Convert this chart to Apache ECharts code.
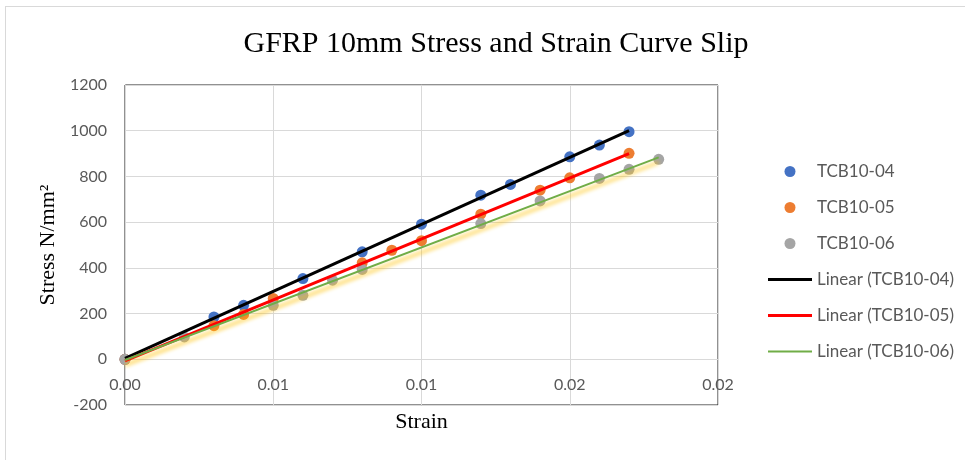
<!DOCTYPE html>
<html><head><meta charset="utf-8">
<script src="https://cdn.jsdelivr.net/npm/echarts@6/dist/echarts.min.js"></script>
<style>
html,body{margin:0;padding:0;background:#fff;}
#frame{position:absolute;left:5px;top:6px;width:960px;height:454px;border-left:1px solid #d9d9d9;border-top:1px solid #d9d9d9;box-sizing:border-box;}
#c{position:absolute;left:0;top:0;width:965px;height:460px;}
</style></head>
<body><div id="frame"></div><div id="c"></div>
<script>
const seriesNames = ['TCB10-04','TCB10-05','TCB10-06'];
const trendNames = ['Linear (TCB10-04)','Linear (TCB10-05)','Linear (TCB10-06)'];
const strain04 = [0, 0.003, 0.004, 0.006, 0.008, 0.010, 0.012, 0.013, 0.015, 0.016, 0.017];
const stress04 = [0, 185, 236, 353, 470, 591, 718, 765, 886, 937, 996];
const strain05 = [0, 0.003, 0.004, 0.005, 0.008, 0.009, 0.010, 0.012, 0.014, 0.015, 0.017];
const stress05 = [0, 147, 196, 266, 422, 477, 519, 635, 740, 794, 901];
const strain06 = [0, 0.002, 0.005, 0.006, 0.007, 0.008, 0.012, 0.014, 0.016, 0.017, 0.018];
const stress06 = [0, 98, 236, 280, 346, 393, 594, 693, 791, 831, 875];
const xTickLabels = ['0.00','0.01','0.01','0.02','0.02'];
const yTicks = [-200, 0, 200, 400, 600, 800, 1000, 1200];

const pairs = (xs, ys) => xs.map((x, i) => [x, ys[i]]);
function fit(xs, ys) {
  const n = xs.length;
  const mx = xs.reduce((a, b) => a + b, 0) / n;
  const my = ys.reduce((a, b) => a + b, 0) / n;
  let sxy = 0, sxx = 0;
  for (let i = 0; i < n; i++) { sxy += (xs[i] - mx) * (ys[i] - my); sxx += (xs[i] - mx) ** 2; }
  const b = sxy / sxx, a = my - b * mx;
  const x0 = Math.min(...xs), x1 = Math.max(...xs);
  return [[x0, a + b * x0], [x1, a + b * x1]];
}

const gridHeight = 320;
const yMin = yTicks[0], yMax = yTicks[yTicks.length - 1];
// shift the x axis up so it crosses the y axis at zero (as in the original)
const xAxisOffset = -gridHeight * (0 - yMin) / (yMax - yMin);

const labelFont = 'Lato, "Noto Sans", sans-serif';
const chart = echarts.init(document.getElementById('c'));
chart.setOption({
  animation: false,
  title: {
    text: 'GFRP 10mm Stress and Strain Curve Slip',
    left: 491, top: 24, textAlign: 'center',
    textStyle: { fontFamily: '"Liberation Serif", serif', fontSize: 30, fontWeight: 'normal', color: '#000' }
  },
  grid: { left: 125, top: 85, width: 593, height: gridHeight, show: true, borderColor: '#222', borderWidth: 1,
          containLabel: false, outerBoundsMode: 'none' },
  legend: {
    orient: 'vertical', left: 768, top: 163, padding: 0,
    itemWidth: 44, itemHeight: 11, itemGap: 19,
    textStyle: { fontFamily: labelFont, fontSize: 17, lineHeight: 17, color: '#595959' },
    data: [
      { name: seriesNames[0], icon: 'circle' },
      { name: seriesNames[1], icon: 'circle' },
      { name: seriesNames[2], icon: 'circle' },
      { name: trendNames[0], icon: 'path://M0,0H44V3H0Z' },
      { name: trendNames[1], icon: 'path://M0,0H44V3H0Z' },
      { name: trendNames[2], icon: 'path://M0,0H44V2H0Z' }
    ]
  },
  xAxis: {
    type: 'value', min: 0, max: 0.02, interval: 0.005,
    offset: xAxisOffset,
    name: 'Strain', nameLocation: 'middle', nameGap: 52,
    nameTextStyle: { fontFamily: '"Liberation Serif", serif', fontSize: 22, color: '#000' },
    axisLine: { show: true, onZero: false, lineStyle: { color: '#d9d9d9' } },
    axisTick: { show: false },
    splitLine: { lineStyle: { color: '#d9d9d9' } },
    axisLabel: { fontFamily: labelFont, fontSize: 16, color: '#595959', margin: 18,
      formatter: (v) => xTickLabels[Math.round(v / 0.005)] }
  },
  yAxis: {
    type: 'value', min: yMin, max: yMax, interval: 200,
    name: 'Stress N/mm²', nameLocation: 'middle', nameGap: 64,
    nameTextStyle: { fontFamily: '"Liberation Serif", serif', fontSize: 22, color: '#000' },
    axisLine: { show: true, onZero: false, lineStyle: { color: '#d9d9d9' } },
    axisTick: { show: false },
    splitLine: { lineStyle: { color: '#d9d9d9' } },
    axisLabel: { fontFamily: labelFont, fontSize: 16, color: '#595959', margin: 18,
      formatter: (v) => String(v) }
  },
  series: [
    { name: seriesNames[0], type: 'scatter', data: pairs(strain04, stress04), symbolSize: 11, itemStyle: { color: '#4472C4', opacity: 1 }, z: 3 },
    { name: seriesNames[1], type: 'scatter', data: pairs(strain05, stress05), symbolSize: 11, itemStyle: { color: '#ED7D31', opacity: 1 }, z: 3 },
    { name: seriesNames[2], type: 'scatter', data: pairs(strain06, stress06), symbolSize: 11, itemStyle: { color: '#A5A5A5', opacity: 1 }, z: 3 },
    { name: trendNames[0], type: 'line', data: fit(strain04, stress04), symbol: 'none', lineStyle: { color: '#000', width: 3 }, itemStyle: { color: '#000' }, z: 4 },
    { name: trendNames[1], type: 'line', data: fit(strain05, stress05), symbol: 'none', lineStyle: { color: '#FF0000', width: 3 }, itemStyle: { color: '#FF0000' }, z: 4 },
    { name: trendNames[2], type: 'line', data: fit(strain06, stress06), symbol: 'none',
      lineStyle: { color: '#70AD47', width: 2, shadowColor: 'rgba(255,192,0,1)', shadowBlur: 4, shadowOffsetY: 5 },
      itemStyle: { color: '#70AD47' }, z: 4 }
  ]
});
</script></body></html>
